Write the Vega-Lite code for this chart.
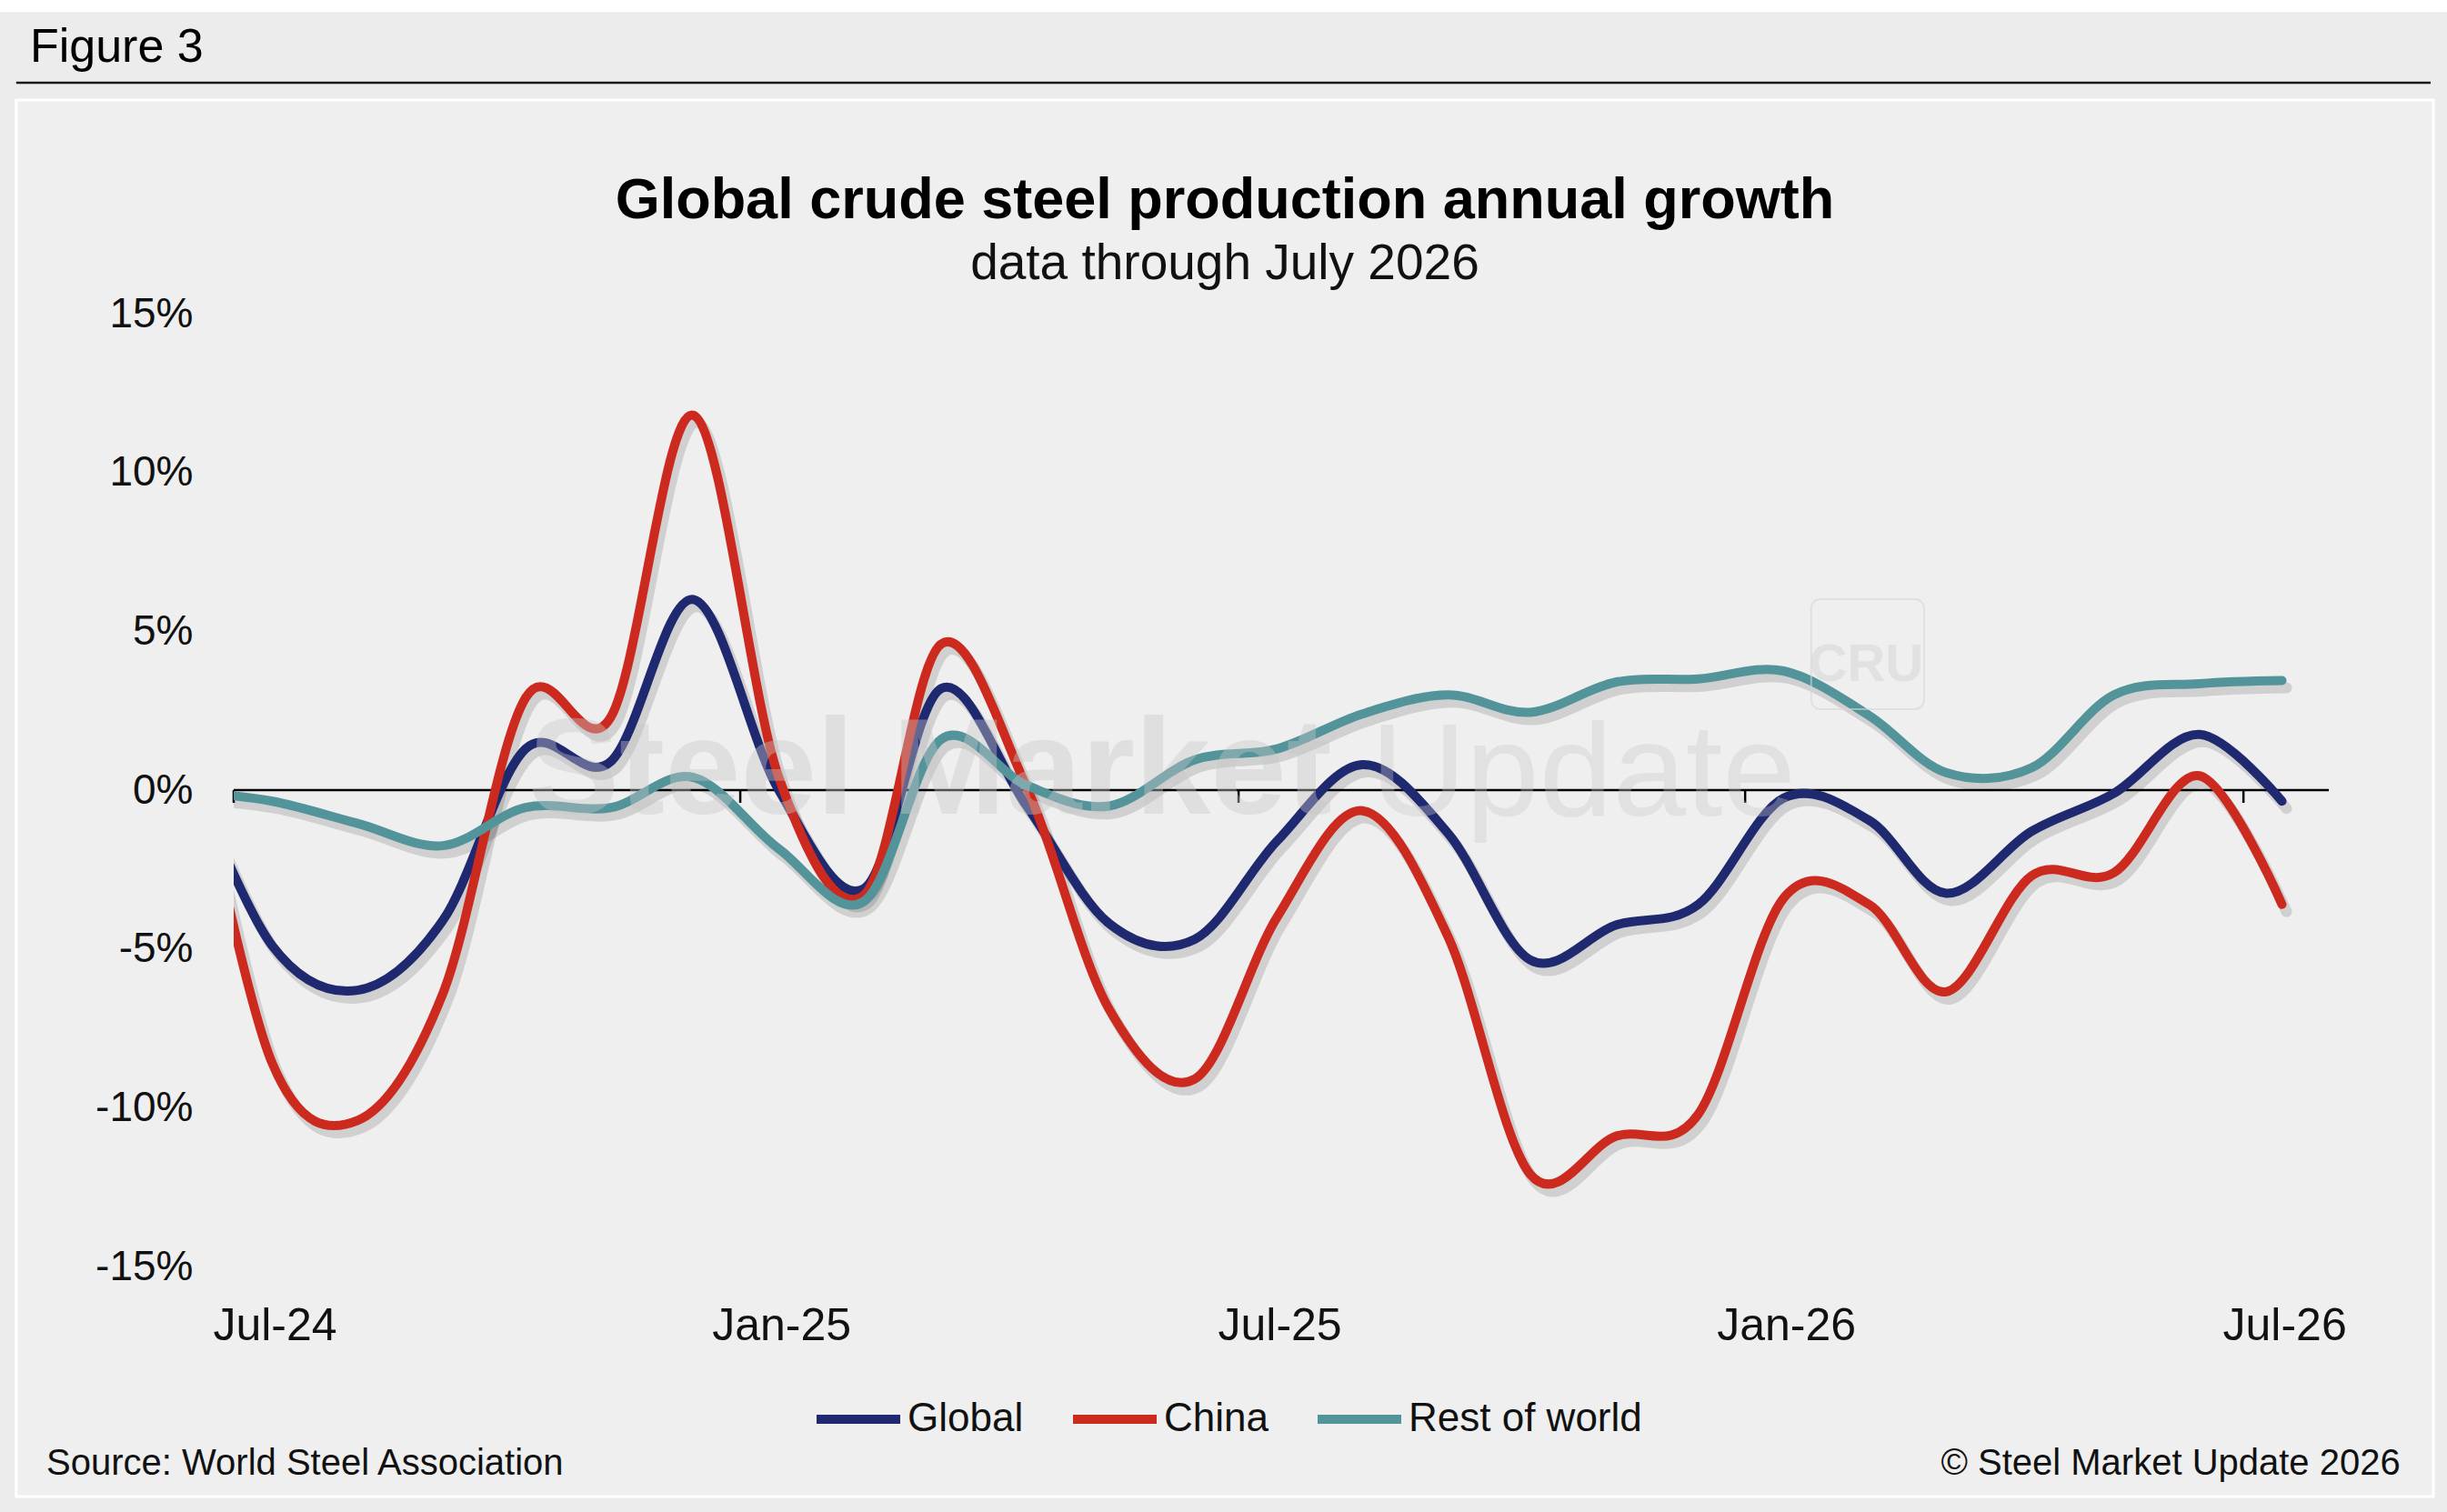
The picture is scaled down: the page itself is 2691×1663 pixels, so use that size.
{
  "$schema": "https://vega.github.io/schema/vega-lite/v6.json",
  "width": 2304,
  "height": 1048,
  "autosize": "none",
  "padding": {"left": 257, "top": 345, "right": 130, "bottom": 270},
  "background": "#ececec",
  "config": {
    "view": {"stroke": null},
    "font": "Liberation Sans",
    "text": {"font": "Liberation Sans", "color": "#111111"}
  },
  "layer": [
    {
      "data": {"values": [{}]},
      "mark": {"type": "rect", "color": "#ffffff"},
      "encoding": {
        "x": {"datum": {"year": 2024, "month": 4, "date": 1, "utc": true}, "type": "temporal"},
        "x2": {"datum": {"year": 2026, "month": 9, "date": 30, "utc": true}},
        "y": {"datum": 25.5},
        "y2": {"datum": 24.5}
      }
    },
    {
      "data": {"values": [{}]},
      "mark": {"type": "rect", "fill": "#efefef", "stroke": "#ffffff", "strokeWidth": 3},
      "encoding": {
        "x": {"datum": {"year": 2024, "month": 4, "date": 13, "utc": true}, "type": "temporal"},
        "x2": {"datum": {"year": 2026, "month": 9, "date": 8, "utc": true}},
        "y": {"datum": 21.73},
        "y2": {"datum": -22.24}
      }
    },
    {
      "data": {"values": [{}]},
      "mark": {"type": "rule", "color": "#1a1a1a", "strokeWidth": 2.5},
      "encoding": {
        "x": {"datum": {"year": 2024, "month": 4, "date": 13, "utc": true}, "type": "temporal"},
        "x2": {"datum": {"year": 2026, "month": 9, "date": 7, "utc": true}},
        "y": {"datum": 22.27}
      }
    },
    {
      "data": {"values": [{}]},
      "mark": {"type": "text", "align": "left", "baseline": "alphabetic", "fontSize": 52, "color": "#000000"},
      "encoding": {
        "x": {"datum": {"year": 2024, "month": 4, "date": 18, "utc": true}, "type": "temporal"},
        "y": {"datum": 22.93},
        "text": {"value": "Figure 3"}
      }
    },
    {
      "data": {"values": [{}]},
      "mark": {"type": "text", "align": "center", "baseline": "alphabetic", "fontSize": 63, "fontWeight": "bold", "color": "#000000"},
      "encoding": {
        "x": {"datum": {"year": 2025, "month": 6, "date": 26, "utc": true}, "type": "temporal"},
        "y": {"datum": 18.0},
        "text": {"value": "Global crude steel production annual growth"}
      }
    },
    {
      "data": {"values": [{}]},
      "mark": {"type": "text", "align": "center", "baseline": "alphabetic", "fontSize": 55, "color": "#111111"},
      "encoding": {
        "x": {"datum": {"year": 2025, "month": 6, "date": 26, "utc": true}, "type": "temporal"},
        "y": {"datum": 16.09},
        "text": {"value": "data through July 2026"}
      }
    },
    {
      "data": {"values": [{}]},
      "mark": {"type": "text", "align": "left", "baseline": "alphabetic", "fontSize": 40, "color": "#111111"},
      "encoding": {
        "x": {"datum": {"year": 2024, "month": 4, "date": 24, "utc": true}, "type": "temporal"},
        "y": {"datum": -21.56},
        "text": {"value": "Source: World Steel Association"}
      }
    },
    {
      "data": {"values": [{}]},
      "mark": {"type": "text", "align": "right", "baseline": "alphabetic", "fontSize": 40, "color": "#111111"},
      "encoding": {
        "x": {"datum": {"year": 2026, "month": 8, "date": 27, "utc": true}, "type": "temporal"},
        "y": {"datum": -21.56},
        "text": {"value": "© Steel Market Update 2026"}
      }
    },
    {
      "data": {"values": [{}]},
      "mark": {"type": "rule", "color": "#000000", "strokeWidth": 2.5},
      "encoding": {"y": {"datum": 0}}
    },
    {
      "data": {"values": [
        {"tick": "2024-07-01"}, {"tick": "2025-01-01"}, {"tick": "2025-07-01"},
        {"tick": "2026-01-01"}, {"tick": "2026-07-01"}
      ]},
      "mark": {"type": "rule", "color": "#000000", "strokeWidth": 2.5},
      "encoding": {
        "x": {"field": "tick", "type": "temporal"},
        "y": {"datum": 0},
        "y2": {"datum": -0.4}
      }
    },
    {
      "data": {"name": "steel"},
      "transform": [{"fold": ["Global", "China", "Rest of world"], "as": ["series", "value"]}],
      "mark": {"type": "line", "interpolate": "cardinal", "tension": 0, "clip": true, "strokeWidth": 12, "color": "#000000", "opacity": 0.13, "xOffset": 5, "yOffset": 8, "strokeCap": "round"},
      "encoding": {
        "x": {"field": "month", "type": "temporal"},
        "y": {"field": "value", "type": "quantitative"},
        "detail": {"field": "series"}
      }
    },
    {
      "data": {"name": "steel"},
      "transform": [{"fold": ["Global", "China", "Rest of world"], "as": ["series", "value"]}],
      "mark": {"type": "line", "interpolate": "cardinal", "tension": 0, "clip": true, "strokeWidth": 10, "strokeCap": "round"},
      "encoding": {
        "x": {
          "field": "month",
          "type": "temporal",
          "scale": {
            "type": "utc",
            "domain": [
              {"year": 2024, "month": 7, "date": 1, "utc": true},
              {"year": 2026, "month": 8, "date": 1, "utc": true}
            ]
          },
          "axis": {
            "values": [
              {"year": 2024, "month": 7, "date": 1, "utc": true},
              {"year": 2025, "month": 1, "date": 1, "utc": true},
              {"year": 2025, "month": 7, "date": 1, "utc": true},
              {"year": 2026, "month": 1, "date": 1, "utc": true},
              {"year": 2026, "month": 7, "date": 1, "utc": true}
            ],
            "labelExpr": "utcFormat(datum.value, '%b-%y')",
            "title": null,
            "zindex": 2,
            "domain": false,
            "ticks": false,
            "tickSize": 0,
            "grid": false,
            "labelOffset": 45,
            "labelPadding": 65,
            "labelBaseline": "middle",
            "labelAlign": "center",
            "labelFlush": false,
            "labelOverlap": false,
            "labelFont": "Liberation Sans",
            "labelFontSize": 50,
            "labelColor": "#111111"
          }
        },
        "y": {
          "field": "value",
          "type": "quantitative",
          "scale": {"domain": [-15, 15], "nice": false},
          "axis": {
            "values": [-15, -10, -5, 0, 5, 10, 15],
            "labelExpr": "datum.value + '%'",
            "title": null,
            "zindex": 2,
            "domain": false,
            "ticks": false,
            "tickSize": 0,
            "grid": false,
            "labelPadding": 45,
            "labelFont": "Liberation Sans",
            "labelFontSize": 46,
            "labelColor": "#111111"
          }
        },
        "color": {
          "field": "series",
          "type": "nominal",
          "scale": {
            "domain": ["Global", "China", "Rest of world"],
            "range": ["#1f2970", "#cc2a1f", "#52949a"]
          },
          "legend": {
            "orient": "none",
            "legendX": 636,
            "legendY": 1165,
            "direction": "horizontal",
            "title": null,
            "zindex": 2,
            "symbolType": "stroke",
            "symbolStrokeWidth": 10,
            "symbolSize": 8464,
            "labelFont": "Liberation Sans",
            "labelFontSize": 44,
            "labelColor": "#111111",
            "labelOffset": 3,
            "columnPadding": 34,
            "labelLimit": 0
          }
        }
      }
    },
    {
      "data": {"values": [{}]},
      "mark": {"type": "text", "align": "left", "baseline": "alphabetic", "fontSize": 150, "fontWeight": "bold", "color": "#c8c8c8", "opacity": 0.4},
      "encoding": {
        "x": {"datum": {"year": 2024, "month": 10, "date": 16, "utc": true}, "type": "temporal"},
        "y": {"datum": -0.74},
        "text": {"value": "Steel Market"}
      }
    },
    {
      "data": {"values": [{}]},
      "mark": {"type": "text", "align": "left", "baseline": "alphabetic", "fontSize": 145, "fontWeight": "normal", "color": "#c8c8c8", "opacity": 0.35},
      "encoding": {
        "x": {"datum": {"year": 2025, "month": 8, "date": 18, "utc": true}, "type": "temporal"},
        "y": {"datum": -0.8},
        "text": {"value": "Update"}
      }
    },
    {
      "data": {"values": [{}]},
      "mark": {"type": "rect", "fill": null, "stroke": "#d6d6d6", "strokeWidth": 2, "cornerRadius": 10, "opacity": 0.6},
      "encoding": {
        "x": {"datum": {"year": 2026, "month": 1, "date": 25, "utc": true}, "type": "temporal"},
        "x2": {"datum": {"year": 2026, "month": 3, "date": 7, "utc": true}},
        "y": {"datum": 6.01},
        "y2": {"datum": 2.55}
      }
    },
    {
      "data": {"values": [{}]},
      "mark": {"type": "text", "align": "center", "baseline": "alphabetic", "fontSize": 58, "fontWeight": "bold", "color": "#c8c8c8", "opacity": 0.35},
      "encoding": {
        "x": {"datum": {"year": 2026, "month": 2, "date": 14, "utc": true}, "type": "temporal"},
        "y": {"datum": 3.44},
        "text": {"value": "CRU"}
      }
    }
  ],
  "datasets": {
    "steel": [
      {"month": "2024-06-15", "Global": 0.62, "China": 2.1, "Rest of world": -0.05},
      {"month": "2024-07-15", "Global": -4.9, "China": -8.6, "Rest of world": -0.35},
      {"month": "2024-08-15", "Global": -6.3, "China": -10.4, "Rest of world": -1.05},
      {"month": "2024-09-15", "Global": -4.1, "China": -6.4, "Rest of world": -1.75},
      {"month": "2024-10-15", "Global": 1.3, "China": 2.9, "Rest of world": -0.55},
      {"month": "2024-11-15", "Global": 0.9, "China": 2.3, "Rest of world": -0.55},
      {"month": "2024-12-15", "Global": 6.0, "China": 11.8, "Rest of world": 0.4},
      {"month": "2025-01-15", "Global": 0.0, "China": 0.4, "Rest of world": -1.85},
      {"month": "2025-02-15", "Global": -3.1, "China": -3.3, "Rest of world": -3.5},
      {"month": "2025-03-15", "Global": 3.2, "China": 4.6, "Rest of world": 1.6},
      {"month": "2025-04-15", "Global": -0.5, "China": 0.1, "Rest of world": 0.15},
      {"month": "2025-05-15", "Global": -4.2, "China": -6.9, "Rest of world": -0.5},
      {"month": "2025-06-15", "Global": -4.7, "China": -9.1, "Rest of world": 0.95},
      {"month": "2025-07-15", "Global": -1.6, "China": -4.0, "Rest of world": 1.3},
      {"month": "2025-08-15", "Global": 0.8, "China": -0.65, "Rest of world": 2.4},
      {"month": "2025-09-15", "Global": -1.35, "China": -4.6, "Rest of world": 3.0},
      {"month": "2025-10-15", "Global": -5.35, "China": -12.1, "Rest of world": 2.45},
      {"month": "2025-11-15", "Global": -4.25, "China": -10.9, "Rest of world": 3.4},
      {"month": "2025-12-15", "Global": -3.6, "China": -10.2, "Rest of world": 3.5},
      {"month": "2026-01-15", "Global": -0.25, "China": -3.4, "Rest of world": 3.75},
      {"month": "2026-02-15", "Global": -0.95, "China": -3.6, "Rest of world": 2.35},
      {"month": "2026-03-15", "Global": -3.25, "China": -6.35, "Rest of world": 0.55},
      {"month": "2026-04-15", "Global": -1.3, "China": -2.7, "Rest of world": 0.7},
      {"month": "2026-05-15", "Global": -0.1, "China": -2.6, "Rest of world": 3.0},
      {"month": "2026-06-15", "Global": 1.75, "China": 0.45, "Rest of world": 3.35},
      {"month": "2026-07-15", "Global": -0.35, "China": -3.6, "Rest of world": 3.45}
    ]
  }
}
